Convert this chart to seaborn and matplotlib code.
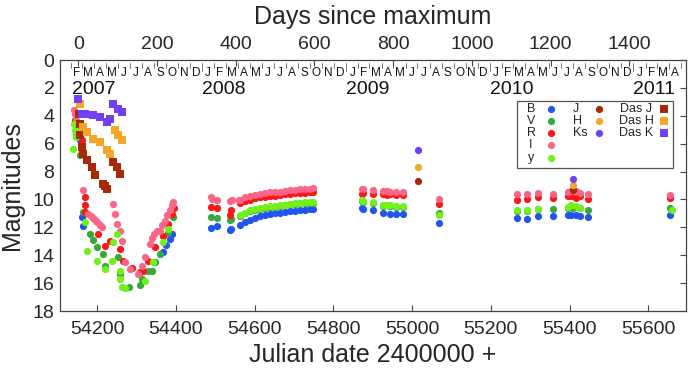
import numpy as np
import pandas as pd
import matplotlib
matplotlib.use("Agg")
import matplotlib.pyplot as plt
import seaborn as sns
from matplotlib import font_manager
from matplotlib.patches import Rectangle

# ---------------- data (JD-2400000, magnitude) ----------------
jd_B = [54150, 54156, 54160, 54163, 54368, 54375, 54385, 54390,
        54489, 54503, 54536, 54540,
        54563, 54575, 54588, 54600, 54613, 54626, 54639, 54652, 54664, 54677, 54690, 54702, 54715, 54728, 54740, 54749,
        54872, 54876, 54901, 54926, 54943, 54960, 54977, 55068,
        55266, 55291, 55319, 55357, 55397, 55405, 55417, 55427, 55448, 55655]
mag_B = [5.0, 5.76, 11.27, 11.9, 13.79, 13.3, 12.83, 12.5,
         12.04, 11.87, 12.18, 12.1,
         11.8, 11.6, 11.46, 11.33, 11.22, 11.12, 11.03, 10.99, 10.96, 10.9, 10.86, 10.82, 10.79, 10.75, 10.72, 10.7,
         10.6, 10.65, 10.79, 10.98, 11.02, 11.07, 11.07, 11.7,
         11.34, 11.4, 11.22, 11.22, 11.15, 11.1, 11.12, 11.22, 11.27, 11.15]

jd_V = [54143, 54147, 54156, 54164, 54181, 54190, 54198, 54215, 54220, 54253, 54258, 54280, 54308,
        54313, 54330, 54338, 54347, 54359, 54380, 54393,
        54489, 54503, 54537, 54541,
        54563, 54575, 54588, 54600, 54613, 54626, 54639, 54652, 54664, 54677, 54690, 54702, 54715, 54728, 54740, 54749,
        54872, 54876, 54901, 54926, 54943, 54960, 54977, 55068,
        55266, 55291, 55319, 55357, 55397, 55410, 55427, 55448, 55655]
mag_V = [4.4, 5.2, 6.83, 10.91, 12.47, 12.9, 13.43, 13.91, 14.75, 14.15, 15.35, 16.3, 16.15,
         15.71, 15.11, 15.1, 14.51, 13.91, 12.4, 11.27,
         11.27, 11.32, 11.46, 11.4,
         11.2, 11.0, 10.84, 10.73, 10.65, 10.6, 10.55, 10.51, 10.48, 10.42, 10.36, 10.32, 10.29, 10.26, 10.24, 10.22,
         10.12, 10.15, 10.24, 10.48, 10.48, 10.53, 10.53, 10.98,
         10.85, 10.8, 10.7, 10.67, 10.6, 10.58, 10.62, 10.74, 10.6]

jd_R = [54143, 54148, 54160, 54169, 54169, 54169, 54203, 54220, 54232, 54258, 54266, 54287,
        54308, 54317, 54330, 54347, 54368, 54380, 54389, 54395,
        54489, 54503, 54537, 54540,
        54563, 54575, 54588, 54600, 54613, 54626, 54639, 54652, 54664, 54677, 54690, 54702, 54715, 54728, 54740, 54749,
        54872, 54876, 54901, 54926, 54935, 54943, 54960, 54977, 55068,
        55266, 55291, 55319, 55357, 55397, 55405, 55417, 55427, 55448, 55655]
mag_R = [4.3, 4.9, 5.76, 9.83, 10.43, 10.91, 12.47, 13.31, 12.95, 13.55, 14.39, 14.9,
         15.23, 15.1, 14.39, 13.43, 12.59, 11.75, 11.03, 10.6,
         10.55, 10.6, 11.08, 10.74,
         10.26, 10.12, 10.02, 9.92, 9.83, 9.79, 9.76, 9.72, 9.69, 9.64, 9.59, 9.56, 9.52, 9.51, 9.5, 9.48,
         9.6, 9.55, 9.59, 9.6, 9.65, 9.64, 9.7, 9.7, 10.31,
         10.07, 10.0, 9.83, 9.88, 9.78, 9.72, 9.88, 9.78, 9.95, 9.88]

jd_I = [54141, 54143, 54146, 54149, 54164, 54177, 54183, 54188, 54194, 54200, 54206, 54211,
        54241, 54245, 54249, 54258, 54262, 54270, 54283,
        54304, 54313, 54321, 54334, 54340, 54345, 54351, 54359, 54365, 54372, 54378, 54385, 54390, 54393,
        54489, 54491, 54503, 54537, 54542, 54559,
        54563, 54575, 54588, 54600, 54613, 54626, 54639, 54652, 54664, 54677, 54690, 54702, 54715, 54728, 54740, 54749,
        54872, 54876, 54901, 54926, 54935, 54943, 54960, 54977, 55068,
        55266, 55291, 55319, 55357, 55397, 55405, 55417, 55427, 55448, 55655]
mag_I = [3.6, 3.84, 4.3, 4.8, 9.35, 11.03, 11.2, 11.35, 11.5, 11.65, 11.8, 11.99,
         10.31, 11.03, 11.75, 12.23, 12.95, 14.51, 14.99,
         15.35, 14.75, 14.15, 13.19, 12.8, 12.5, 12.23, 12.23, 11.8, 11.51, 11.1, 10.79, 10.4, 10.19,
         9.83, 9.95, 10.07, 10.12, 10.07, 10.07,
         10.02, 9.85, 9.74, 9.66, 9.59, 9.54, 9.5, 9.47, 9.45, 9.4, 9.35, 9.31, 9.28, 9.25, 9.23, 9.2,
         9.23, 9.25, 9.3, 9.4, 9.38, 9.45, 9.5, 9.5, 9.95,
         9.64, 9.64, 9.54, 9.59, 9.47, 9.4, 9.4, 9.54, 9.64, 9.71]

jd_y = [54139, 54141, 54143, 54146, 54169, 54173, 54198, 54220, 54237, 54241, 54249, 54258, 54258, 54262, 54270,
        54321, 54342, 54368, 54380,
        54563, 54575, 54588, 54600, 54613, 54626, 54639, 54652, 54664, 54677, 54690, 54702, 54715, 54728, 54740, 54749,
        54872, 54876, 54901, 54926, 54935, 54943, 54960, 54977, 55068,
        55266, 55291, 55319, 55397, 55405, 55417, 55427, 55660]
mag_y = [6.35, 4.56, 5.0, 5.5, 11.63, 13.67, 14.39, 14.99, 14.39, 13.07, 12.47, 15.11, 15.71, 16.31, 16.35,
         15.83, 14.5, 13.07, 12.11,
         11.15, 10.95, 10.79, 10.68, 10.6, 10.55, 10.5, 10.46, 10.43, 10.37, 10.31, 10.27, 10.24, 10.21, 10.19, 10.17,
         10.07, 10.1, 10.19, 10.43, 10.4, 10.43, 10.48, 10.48, 11.15,
         10.79, 10.74, 10.67, 10.55, 10.43, 10.5, 10.62, 10.74]

jd_J = [55014, 55410]
mag_J = [8.7, 9.3]
jd_H = [55014, 55410]
mag_H = [7.67, 8.99]
jd_Ks = [55014, 55410]
mag_Ks = [6.47, 8.51]

jd_DasJ = [54153, 54155, 54157, 54160, 54164.5, 54173, 54186, 54194, 54215, 54220, 54224, 54241, 54249, 54258]
mag_DasJ = [3.9, 4.6, 5.4, 6.24, 6.71, 7.19, 7.67, 8.27, 8.87, 9.0, 9.23, 7.31, 7.67, 8.15]
jd_DasH = [54156, 54164.5, 54173, 54190, 54207, 54224, 54232, 54245, 54253, 54262]
mag_DasH = [3.12, 4.8, 5.16, 5.64, 5.88, 6.47, 6.71, 5.04, 5.4, 5.76]
jd_DasK = [54151.8, 54160, 54169, 54190, 54207, 54224, 54232, 54241, 54253, 54262]
mag_DasK = [2.83, 3.84, 3.84, 3.96, 4.08, 4.44, 4.2, 3.12, 3.48, 3.72]

bands = ["B", "V", "R", "I", "y", "J", "H", "Ks", "Das J", "Das H", "Das K"]
colors = {"B": "#2155ee", "V": "#38a838", "R": "#f81818", "I": "#fa6487", "y": "#72f01a",
          "J": "#a8280a", "H": "#f5a628", "Ks": "#7040f5",
          "Das J": "#a8280a", "Das H": "#f5a628", "Das K": "#7040f5"}
series = {"B": (jd_B, mag_B), "V": (jd_V, mag_V), "R": (jd_R, mag_R), "I": (jd_I, mag_I),
          "y": (jd_y, mag_y), "J": (jd_J, mag_J), "H": (jd_H, mag_H), "Ks": (jd_Ks, mag_Ks),
          "Das J": (jd_DasJ, mag_DasJ), "Das H": (jd_DasH, mag_DasH), "Das K": (jd_DasK, mag_DasK)}

x_ticks = [54200, 54400, 54600, 54800, 55000, 55200, 55400, 55600]
y_ticks = [0, 2, 4, 6, 8, 10, 12, 14, 16, 18]
day_ticks = [0, 200, 400, 600, 800, 1000, 1200, 1400]
jd_max = 54151.7
month_letters = ["J", "F", "M", "A", "M", "J", "J", "A", "S", "O", "N", "D"]

# ---------------- style ----------------
sns.set_theme(style="white")
names = {f.name for f in font_manager.fontManager.ttflist}
narrow = "Liberation Sans Narrow" if "Liberation Sans Narrow" in names else "Liberation Sans"
plt.rcParams["font.family"] = ["Liberation Sans", "DejaVu Sans"]

W, H = 690, 372
fig = plt.figure(figsize=(W / 100, H / 100), dpi=100)
L, R, T, Bt = 60, 686, 60, 311
ax = fig.add_axes([L / W, 1 - Bt / H, (R - L) / W, (Bt - T) / H])

def fx(px):
    return (px - L) / (R - L)

def fy(py):
    return (Bt - py) / (Bt - T)

for b in bands:
    jd, mg = series[b]
    df = pd.DataFrame({"jd": jd, "mag": mg})
    sq = b.startswith("Das")
    sns.scatterplot(data=df, x="jd", y="mag", ax=ax, color=colors[b],
                    marker="s" if sq else "o", s=38 if sq else 27, linewidth=0,
                    legend=False, zorder=3)

x0, x1 = 54105.2, 55696.0
ax.set_xlim(x0, x1)
ax.set_ylim(18, 0)
ax.set_xticks(x_ticks)
ax.set_yticks(y_ticks)
ax.set_xticklabels([str(t) for t in x_ticks], fontfamily=narrow, fontsize=14)
ax.set_yticklabels([str(t) for t in y_ticks], fontfamily=narrow, fontsize=14)
ax.tick_params(axis="x", direction="in", length=4, width=0.8, color="#444444", pad=7, top=False)
ax.tick_params(axis="y", direction="in", length=4, width=0.8, color="#444444", pad=4, right=True)
ax.set_xlabel("Julian date 2400000 +", fontfamily=narrow, fontsize=18, labelpad=4)
ax.set_ylabel("Magnitudes", fontsize=18, labelpad=6)
for sp in ax.spines.values():
    sp.set_color("#444444")
    sp.set_linewidth(0.9)

# top axis: days since maximum
ax2 = ax.twiny()
ax2.set_xlim(x0 - jd_max, x1 - jd_max)
ax2.set_xticks(day_ticks)
ax2.set_xticklabels([str(t) for t in day_ticks], fontsize=14)
ax2.tick_params(axis="x", direction="in", length=4, width=0.8, color="#444444", pad=5)
ax2.set_xlabel("Days since maximum", fontsize=18, labelpad=9)
for sp in ax2.spines.values():
    sp.set_visible(False)

# month letters, month ticks, year labels
trans = ax.get_xaxis_transform()
for year in range(2007, 2012):
    for m in range(1, 13):
        start = pd.Timestamp(year=year, month=m, day=1)
        end = start + pd.offsets.MonthBegin(1)
        js = (start - pd.Timestamp("1970-01-01")).days + 40587.5
        je = (end - pd.Timestamp("1970-01-01")).days + 40587.5
        mid = 0.5 * (js + je)
        if x0 < js < x1:
            h = 0.03 if m == 1 else 0.018
            ax.plot([js, js], [1 - 0.012, 1 - 0.012 - h], transform=trans, color="#777777", lw=0.7, clip_on=False)
        if js >= 54130 and mid < x1 - 5:
            ax.text(mid, fy(73), month_letters[m - 1], transform=trans, ha="center", va="center",
                    fontsize=8.5, color="#111111")
    jan1 = (pd.Timestamp(year=year, month=1, day=1) - pd.Timestamp("1970-01-01")).days + 40587.5
    xpos = max(jan1, 54136)
    if xpos < x1:
        ax.text(xpos, fy(89), str(year), transform=trans, ha="left", va="center", fontsize=14, color="#111111")

# legend (manual, gnuplot style)
ax.add_patch(Rectangle((fx(517), fy(168)), fx(673) - fx(517), fy(101) - fy(168), transform=ax.transAxes,
                       facecolor="white", edgecolor="#555555", lw=0.9, zorder=5))
rows = [108.5, 120.8, 133.1, 145.4, 157.7]
cols = [(["B", "V", "R", "I", "y"], 531, "center", 551),
        (["J", "H", "Ks"], 573, "left", 599),
        (["Das J", "Das H", "Das K"], 636, "center", 664)]
for labs, tx, ha, mx in cols:
    for lab, ry in zip(labs, rows):
        ax.text(fx(tx), fy(ry), lab, transform=ax.transAxes, ha=ha, va="center", fontsize=9, zorder=6)
        ax.plot([fx(mx)], [fy(ry)], transform=ax.transAxes, linestyle="",
                marker="s" if lab.startswith("Das") else "o", markersize=5.2, color=colors[lab],
                markeredgewidth=0, zorder=6)

fig.savefig("out.png", dpi=100)
